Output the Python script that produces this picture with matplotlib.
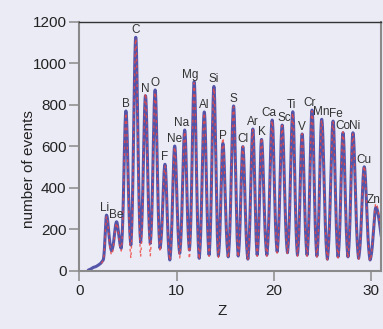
import numpy as np
import matplotlib
matplotlib.use("Agg")
import matplotlib.pyplot as plt
from matplotlib import font_manager

# element peaks
elements = ["Li", "Be", "B", "C", "N", "O", "F", "Ne", "Na", "Mg", "Al", "Si", "P", "S",
            "Cl", "Ar", "K", "Ca", "Sc", "Ti", "V", "Cr", "Mn", "Fe", "Co", "Ni", "Cu", "Zn"]
peak_z = [2.80, 3.83, 4.79, 5.80, 6.80, 7.79, 8.80, 9.80, 10.83, 11.80, 12.84, 13.83, 14.75, 15.85,
          16.80, 17.83, 18.72, 19.81, 20.84, 21.93, 22.89, 23.91, 24.90, 26.07, 27.09, 28.11, 29.27, 30.47]
blue_peaks = [268, 236, 770, 1125, 843, 871, 513, 601, 678, 911, 765, 888, 614, 794,
              598, 683, 633, 726, 702, 766, 659, 774, 730, 721, 665, 665, 501, 305]
red_peaks = [262, 230, 760, 1118, 855, 860, 505, 596, 670, 905, 760, 880, 640, 790,
             600, 680, 640, 723, 700, 760, 660, 770, 725, 718, 670, 660, 505, 325]
# minima between neighbouring peaks
blue_valleys = [96, 108, 124, 137, 132, 108, 52, 84, 100, 60, 76, 72, 67, 71,
                56, 76, 76, 92, 87, 76, 76, 71, 56, 67, 67, 60, 52]
red_valleys = [76, 95, 60, 68, 72, 92, 50, 62, 58, 55, 70, 64, 62, 66,
               52, 70, 70, 85, 80, 70, 70, 66, 52, 62, 62, 56, 48]
# low-Z tail before the Li peak
blue_tail_z = [0.92, 1.20, 1.43, 1.70, 1.95, 2.20, 2.46]
blue_tail = [3, 9, 16, 20, 27, 36, 52]
red_tail_z = [2.29, 2.46]
red_tail = [36, 50]
end_z, end_v = 31.6, 50

xticks = [0, 10, 20, 30]
yticks = [0, 200, 400, 600, 800, 1000, 1200]

BG = "#ebebf6"
SIG = 0.2
E0 = np.exp(-0.125 / SIG ** 2)


def half_peak(z0, v0, zp, hp, n=40):
    t = np.linspace(0, 1, n)
    u = 0.5 * (1 - t)
    g = (np.exp(-u ** 2 / (2 * SIG ** 2)) - E0) / (1 - E0)
    return z0 + (zp - z0) * t, v0 + (hp - v0) * g


def build_curve(tail_z, tail_v, peaks, valleys):
    mids = [(a + b) / 2 for a, b in zip(peak_z[:-1], peak_z[1:])]
    knot_z = [tail_z[-1]] + mids + [end_z]
    knot_v = [tail_v[-1]] + list(valleys) + [end_v]
    xs, ys = list(tail_z[:-1]), list(tail_v[:-1])
    for i, (zp, hp) in enumerate(zip(peak_z, peaks)):
        x, y = half_peak(knot_z[i], knot_v[i], zp, hp)
        xs += list(x); ys += list(y)
        x, y = half_peak(knot_z[i + 1], knot_v[i + 1], zp, hp)
        xs += list(x[::-1][1:]); ys += list(y[::-1][1:])
    return np.array(xs), np.array(ys)


names = {f.name for f in font_manager.fontManager.ttflist}
label_font = "Liberation Sans Narrow" if "Liberation Sans Narrow" in names else "Liberation Sans"
label_size = 9.5 if label_font == "Liberation Sans Narrow" else 8.5
plt.rcParams["font.family"] = ["Liberation Sans", "DejaVu Sans"]

fig = plt.figure(figsize=(3.83, 3.29), dpi=100, facecolor=BG)
ax = fig.add_axes([0.207, 0.177, 0.788, 0.757], facecolor=BG)

bx, by = build_curve(blue_tail_z, blue_tail, blue_peaks, blue_valleys)
rx, ry = build_curve(red_tail_z, red_tail, red_peaks, red_valleys)
ax.plot(bx, by, color="#3a3a9c", lw=2.2, alpha=0.85, solid_capstyle="round")
ax.plot(rx, ry, color="#ef4a44", lw=1.0, dashes=(2.0, 2.6), alpha=0.85)

nudge = {"Li": -1.2, "Na": -2.0, "Mg": -2.7, "Ca": -2.4, "Sc": 1.2, "Ti": -1.2,
         "Cr": -2.0, "Fe": 2.2, "Ni": 1.4, "Zn": -1.7}
for el, zp, hp in zip(elements, peak_z, blue_peaks):
    ax.annotate(el, (zp, hp), xytext=(nudge.get(el, 0), 3), textcoords="offset points",
                ha="center", va="baseline", fontsize=label_size, color="#333333",
                family=[label_font, "DejaVu Sans"])

ax.set_xlim(0, 31)
ax.set_ylim(0, 1200)
ax.set_xticks(xticks)
ax.set_yticks(yticks)
ax.tick_params(direction="out", length=7.2, width=1.1, color="#8a8a8a",
               labelsize=11, labelcolor="#222222", pad=2)
for side in ("left", "bottom", "right"):
    ax.spines[side].set_color("#8a8a8a")
    ax.spines[side].set_linewidth(1.5)
ax.spines["top"].set_color("#333333")
ax.spines["top"].set_linewidth(1.0)

ax.set_xlabel("Z", fontsize=11, color="#222222")
ax.set_ylabel("number of events", fontsize=11, color="#222222")
ax.xaxis.set_label_coords(0.475, -0.135)
ax.yaxis.set_label_coords(-0.145, 0.41)

fig.savefig("out.png", dpi=100, facecolor=BG)
